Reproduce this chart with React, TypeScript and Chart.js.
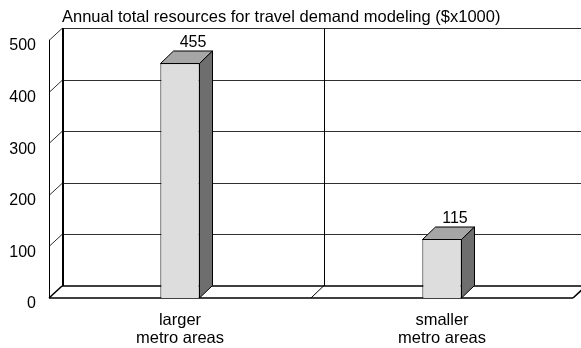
import { useEffect, useRef } from 'react';
import { Chart, registerables } from 'chart.js';

Chart.register(...registerables);

const TITLE = 'Annual total resources for travel demand modeling ($x1000)';
const categories = [['larger', 'metro areas'], ['smaller', 'metro areas']];
const resources = [455, 115];
const yTicks = [0, 100, 200, 300, 400, 500];

const FONT = '"Liberation Sans", Arial, Helvetica, sans-serif';
// Perspective depth of the box (back plane offset from the front plane)
const DX = 13;
const DY = 12.5;

const FRONT = '#dddddd';
const TOP = '#a6a6a6';
const SIDE = '#6e6e6e';

function line(ctx: CanvasRenderingContext2D, x1: number, y1: number, x2: number, y2: number) {
  ctx.beginPath();
  ctx.moveTo(x1, y1);
  ctx.lineTo(x2, y2);
  ctx.stroke();
}

const box3d = {
  id: 'box3d',
  beforeDatasetsDraw(chart: any) {
    const { ctx, chartArea, scales } = chart;
    const { left, right, top, bottom } = chartArea;
    const y = scales.y;
    const x = scales.x;
    ctx.save();

    // back wall gridlines and left wall diagonals
    ctx.strokeStyle = '#303030';
    ctx.lineWidth = 1;
    yTicks.forEach((v) => {
      const yy = Math.round(y.getPixelForValue(v)) + 0.5;
      const by = Math.round(yy - DY) + 0.5;
      if (v === 0) return;
      line(ctx, left + DX, by, right + DX, by);
      line(ctx, left, yy, left + DX, by);
    });

    // category dividers on the back wall and floor
    ctx.strokeStyle = '#000';
    for (let i = 0; i < categories.length - 1; i++) {
      const bx = Math.round((x.getPixelForValue(i) + x.getPixelForValue(i + 1)) / 2);
      const topB = Math.round(y.getPixelForValue(500) - DY) + 0.5;
      const botB = Math.round(bottom - DY);
      line(ctx, bx + DX + 0.5, topB, bx + DX + 0.5, botB);
      line(ctx, bx, bottom, bx + DX, bottom - DY);
    }

    // floor
    ctx.lineWidth = 1.6;
    const fb = Math.round(bottom);
    const bb = Math.round(bottom - DY);
    line(ctx, left + DX, bb, right + DX, bb);
    line(ctx, left, fb, right, fb);
    line(ctx, left, fb, left + DX, bb);
    line(ctx, right, fb, right + DX, bb);

    // front vertical axis
    ctx.lineWidth = 1;
    line(ctx, left + 0.5, Math.round(top), left + 0.5, fb);
    // back wall left edge
    ctx.lineWidth = 2;
    line(ctx, left + DX + 1, Math.round(y.getPixelForValue(500) - DY), left + DX + 1, bb);
    ctx.restore();
  },
  afterDatasetsDraw(chart: any) {
    const { ctx } = chart;
    const meta = chart.getDatasetMeta(0);
    ctx.save();
    ctx.lineWidth = 1;
    ctx.strokeStyle = '#000';
    meta.data.forEach((bar: any, i: number) => {
      const { x, y, base, width } = bar.getProps(['x', 'y', 'base', 'width'], true);
      const l = Math.round(x - width / 2) + 0.5;
      const r = Math.round(x + width / 2) - 0.5;
      const t = Math.round(y) + 0.5;
      const b = base;
      // top face
      ctx.beginPath();
      ctx.moveTo(l, t);
      ctx.lineTo(l + DX, t - DY);
      ctx.lineTo(r + DX, t - DY);
      ctx.lineTo(r, t);
      ctx.closePath();
      ctx.fillStyle = TOP;
      ctx.fill();
      ctx.stroke();
      // side face
      ctx.beginPath();
      ctx.moveTo(r, t);
      ctx.lineTo(r + DX, t - DY);
      ctx.lineTo(r + DX, b - DY);
      ctx.lineTo(r, b);
      ctx.closePath();
      ctx.fillStyle = SIDE;
      ctx.fill();
      ctx.stroke();
      // value label above the box
      ctx.fillStyle = '#000';
      ctx.font = `16px ${FONT}`;
      ctx.textAlign = 'center';
      ctx.textBaseline = 'alphabetic';
      ctx.fillText(String(resources[i]), x + DX, t - DY - 4);
    });
    ctx.restore();
  },
  afterDraw(chart: any) {
    const { ctx } = chart;
    ctx.save();
    ctx.fillStyle = '#000';
    ctx.font = `16.5px ${FONT}`;
    ctx.textAlign = 'left';
    ctx.textBaseline = 'alphabetic';
    ctx.fillText(TITLE, chart.chartArea.left + DX, 22);
    ctx.restore();
  },
};

export default function App() {
  const ref = useRef<HTMLCanvasElement | null>(null);

  useEffect(() => {
    if (!ref.current) return;
    const chart = new Chart(ref.current, {
      type: 'bar',
      data: {
        labels: categories,
        datasets: [
          {
            data: resources,
            backgroundColor: FRONT,
            borderColor: '#000',
            borderWidth: 1,
            barPercentage: 0.15,
            categoryPercentage: 1,
          },
        ],
      },
      options: {
        responsive: false,
        animation: false,
        devicePixelRatio: 1,
        layout: { padding: { top: 40, right: 8, left: 0, bottom: 0 } },
        plugins: {
          legend: { display: false },
          tooltip: { enabled: false },
          title: { display: false },
        },
        scales: {
          x: {
            offset: true,
            grid: { display: false, drawTicks: false },
            border: { display: false },
            ticks: {
              color: '#000',
              padding: 13,
              font: { family: FONT, size: 16.5, lineHeight: 1.12 },
            },
            afterFit: (s: any) => {
              s.height = 50;
            },
          },
          y: {
            min: 0,
            max: 500,
            grid: { display: false, drawTicks: false },
            border: { display: false },
            ticks: {
              stepSize: 100,
              color: '#000',
              padding: 13,
              labelOffset: 6,
              font: { family: FONT, size: 16 },
            },
            afterFit: (s: any) => {
              s.width = 49;
            },
          },
        },
      },
      plugins: [box3d],
    });
    return () => chart.destroy();
  }, []);

  return (
    <div style={{ position: 'absolute', left: 0, top: 0, width: 581, height: 348, background: '#fff' }}>
      <canvas ref={ref} width={581} height={348} />
    </div>
  );
}
